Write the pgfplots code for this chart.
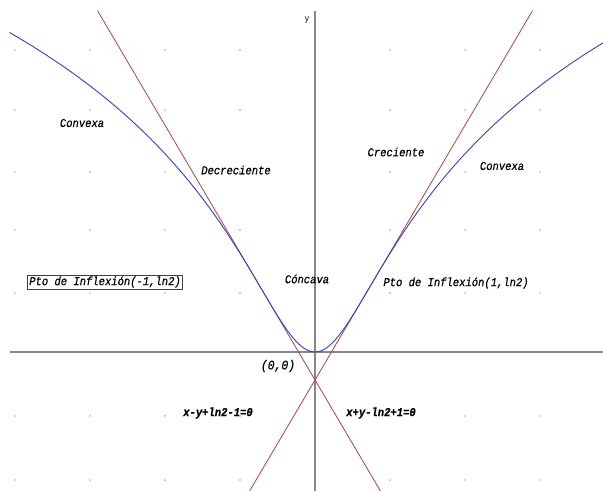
\documentclass[border=0pt]{standalone}
\usepackage{pgfplots}
\pgfplotsset{compat=1.18}
\usepackage{fontspec}
\newfontfamily\derive[FakeStretch=0.88]{Liberation Mono}
\newfontfamily\derivemed[FakeStretch=0.88, FakeBold=0.6]{Liberation Mono}

\definecolor{curva}{RGB}{60,60,200}
\definecolor{tang}{RGB}{165,70,70}
\definecolor{ejes}{RGB}{135,135,135}

\tikzset{
  lbl/.style={font=\derivemed\itshape\fontsize{12}{13}\selectfont, inner sep=1.5pt},
  eq/.style={font=\derivemed\bfseries\itshape\fontsize{12}{13}\selectfont, inner sep=1pt},
}

\begin{document}
\begin{tikzpicture}
\begin{axis}[
  width=603bp, height=491bp, scale only axis,
  xmin=-5.877, xmax=5.373, ymin=-1.5275, ymax=3.868,
  axis line style={draw=none},
  ticks=none,
]
% puntos de la rejilla
\addplot[only marks, mark=*, mark size=0.55bp, ejes!70, mark options={draw=none}] coordinates {
(-5.6,3.319) (-4.2,3.319) (-2.8,3.319) (-1.4,3.319) (1.4,3.319) (2.8,3.319) (4.2,3.319)
(-5.6,2.659) (-4.2,2.659) (-2.8,2.659) (-1.4,2.659) (1.4,2.659) (2.8,2.659) (4.2,2.659)
(-5.6,1.978) (-4.2,1.978) (-2.8,1.978) (-1.4,1.978) (1.4,1.978) (2.8,1.978) (4.2,1.978)
(-5.6,1.341) (-4.2,1.341) (-2.8,1.341) (-1.4,1.341) (1.4,1.341) (2.8,1.341) (4.2,1.341)
(-5.6,0.648) (-4.2,0.648) (-2.8,0.648) (-1.4,0.648) (1.4,0.648) (2.8,0.648) (4.2,0.648)
(-5.6,-0.703) (-4.2,-0.703) (-2.8,-0.703) (-1.4,-0.703) (1.4,-0.703) (2.8,-0.703) (4.2,-0.703)
(-5.6,-1.407) (-4.2,-1.407) (-2.8,-1.407) (-1.4,-1.407) (1.4,-1.407) (2.8,-1.407) (4.2,-1.407)
};
% ejes
\addplot[ejes, line width=1.6bp] coordinates {(-5.69,0) (5.6,0)};
\addplot[ejes, line width=1.6bp] coordinates {(0,-1.7) (0,3.75)};
% tangentes en los puntos de inflexion
\addplot[tang, line width=0.8bp] coordinates {(-1.3,-1.6069) (4.057,3.750)};
\addplot[tang, line width=0.8bp] coordinates {(-4.057,3.750) (1.3,-1.6069)};
% y = ln(1+x^2)
\addplot[curva, line width=0.9bp, smooth] coordinates {
(-5.7,3.51125) (-5.5,3.44202) (-5.25,3.35209) (-5.0,3.25810) (-4.75,3.15965)
(-4.5,3.05635) (-4.25,2.94772) (-4.0,2.83321) (-3.75,2.71221) (-3.5,2.58400)
(-3.25,2.44778) (-3.0,2.30259) (-2.75,2.14739) (-2.5,1.98100) (-2.25,1.80212)
(-2.0,1.60944) (-1.9,1.52823) (-1.8,1.44456) (-1.7,1.35841) (-1.6,1.26976)
(-1.5,1.17865) (-1.4,1.08519) (-1.3,0.98954) (-1.2,0.89200) (-1.1,0.79299)
(-1.0,0.69315) (-0.9,0.59333) (-0.8,0.49470) (-0.7,0.39878) (-0.6,0.30748)
(-0.5,0.22314) (-0.4,0.14842) (-0.3,0.08618) (-0.2,0.03922) (-0.1,0.00995)
(0,0)
(0.1,0.00995) (0.2,0.03922) (0.3,0.08618) (0.4,0.14842) (0.5,0.22314)
(0.6,0.30748) (0.7,0.39878) (0.8,0.49470) (0.9,0.59333) (1.0,0.69315)
(1.1,0.79299) (1.2,0.89200) (1.3,0.98954) (1.4,1.08519) (1.5,1.17865)
(1.6,1.26976) (1.7,1.35841) (1.8,1.44456) (1.9,1.52823) (2.0,1.60944)
(2.25,1.80212) (2.5,1.98100) (2.75,2.14739) (3.0,2.30259) (3.25,2.44778)
(3.5,2.58400) (3.75,2.71221) (4.0,2.83321) (4.25,2.94772) (4.5,3.05635)
(4.75,3.15965) (5.0,3.25810) (5.25,3.35209) (5.5,3.44202)
};
% textos
\node[font=\derive\fontsize{9}{10}\selectfont] at (axis cs:-0.149,3.648) {y};
\node[lbl] at (axis cs:-4.347,2.516) {Convexa};
\node[lbl] at (axis cs:-1.474,2.0) {Decreciente};
\node[lbl] at (axis cs:1.511,2.198) {Creciente};
\node[lbl] at (axis cs:3.489,2.044) {Convexa};
\node[lbl] at (axis cs:-0.149,0.802) {Cóncava};
\node[lbl] at (axis cs:2.631,0.758) {Pto de Inflexión(1,ln2)};
\node[lbl, draw=black!75, line width=0.6bp] at (axis cs:-3.918,0.769) {Pto de Inflexión(-1,ln2)};
\node[lbl, font=\derivemed\itshape\fontsize{13}{14}\selectfont] at (axis cs:-0.690,-0.154) {(0,0)};
\node[eq] at (axis cs:-1.810,-0.670) {x-y+ln2-1=0};
\node[eq] at (axis cs:1.231,-0.670) {x+y-ln2+1=0};
\end{axis}
\end{tikzpicture}
\end{document}
